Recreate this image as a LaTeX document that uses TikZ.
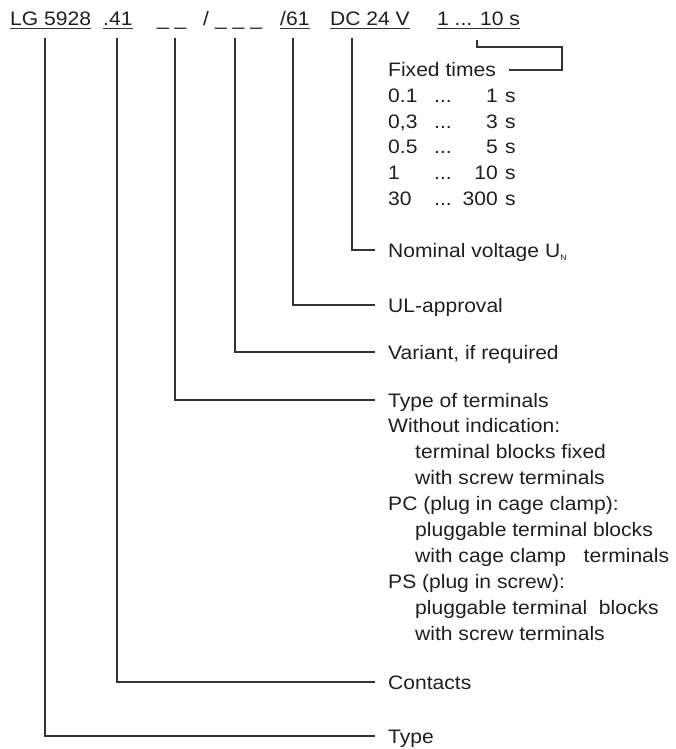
\documentclass[tikz,border=0pt]{standalone}
\usepackage{fontspec}
\setmainfont{Liberation Sans}[FakeStretch=1.08]
\begin{document}
\begin{tikzpicture}[x=1pt,y=-1pt,
  lbl/.style={anchor=base west, inner sep=0pt, font=\fontsize{19.5}{24}\selectfont, text=black!88},
  rlbl/.style={lbl, anchor=base east},
  conn/.style={line width=1.1pt, draw=black!80},
  uline/.style={line width=1pt, draw=black!80}]
\useasboundingbox (0,0) rectangle (675,749);
% header code
\node[lbl] (h1) at (10,26) {LG 5928};
\node[lbl] (h2) at (103,26) {.41};
\node[lbl] (h3) at (157,26) {\_ \_};
\node[lbl] (h4) at (203,26) {/};
\node[lbl] (h5) at (215,26) {\_ \_ \_};
\node[lbl] (h6) at (280,26) {/61};
\node[lbl] (h7) at (330,26) {DC 24 V};
\node[lbl] (h8) at (437,26) {1 ... 10 s};
\foreach \n in {h1,h2,h6,h7,h8}
  \draw[uline] ([yshift=-2.5pt]\n.base west) -- ([yshift=-2.5pt]\n.base east);
% drop points
\coordinate (d1) at (45,38);
\coordinate (d2) at (117,38);
\coordinate (d3) at (175,38);
\coordinate (d4) at (235,38);
\coordinate (d5) at (293,38);
\coordinate (d6) at (352,38);
\coordinate (d7) at (477,40);
\coordinate (fc) at (562,47);
% fixed times
\node[lbl] (fixed) at (388,77) {Fixed times};
\node[lbl] (r1a) at (388,102.6) {0.1};
\node[lbl] (r1b) at (434,102.6) {...};
\node[rlbl] (r1c) at (498,102.6) {1};
\node[lbl] (r1d) at (505,102.6) {s};
\node[lbl] (r2a) at (388,128.2) {0,3};
\node[lbl] (r2b) at (434,128.2) {...};
\node[rlbl] (r2c) at (498,128.2) {3};
\node[lbl] (r2d) at (505,128.2) {s};
\node[lbl] (r3a) at (388,153.8) {0.5};
\node[lbl] (r3b) at (434,153.8) {...};
\node[rlbl] (r3c) at (498,153.8) {5};
\node[lbl] (r3d) at (505,153.8) {s};
\node[lbl] (r4a) at (388,179.4) {1};
\node[lbl] (r4b) at (434,179.4) {...};
\node[rlbl] (r4c) at (498,179.4) {10};
\node[lbl] (r4d) at (505,179.4) {s};
\node[lbl] (r5a) at (388,205) {30};
\node[lbl] (r5b) at (434,205) {...};
\node[rlbl] (r5c) at (498,205) {300};
\node[lbl] (r5d) at (505,205) {s};
% labels
\node[lbl] (nom) at (388,257) {Nominal voltage U\raisebox{-3pt}{\fontsize{8}{8}\selectfont N}};
\node[lbl] (ul) at (388,312) {UL-approval};
\node[lbl] (var) at (388,359) {Variant, if required};
\node[lbl] (tot) at (388,407) {Type of terminals};
\node[lbl] (t1) at (388,432.9) {Without indication:};
\node[lbl] (t2) at (415,458.8) {terminal blocks fixed};
\node[lbl] (t3) at (415,484.7) {with screw terminals};
\node[lbl] (t4) at (388,510.6) {PC (plug in cage clamp):};
\node[lbl] (t5) at (415,536.5) {pluggable terminal blocks};
\node[lbl] (t6) at (415,562.4) {with cage clamp \ \ terminals};
\node[lbl] (t7) at (388,588.3) {PS (plug in screw):};
\node[lbl] (t8) at (415,614.2) {pluggable terminal \ blocks};
\node[lbl] (t9) at (415,640.1) {with screw terminals};
\node[lbl] (cont) at (388,689) {Contacts};
\node[lbl] (type) at (388,743) {Type};
% connectors
\draw[conn] (d7) |- (fc) |- ([xshift=13pt,yshift=7pt]fixed.base east);
\draw[conn] (d6) |- ([xshift=-13pt,yshift=7pt]nom.base west);
\draw[conn] (d5) |- ([xshift=-13pt,yshift=7pt]ul.base west);
\draw[conn] (d4) |- ([xshift=-13pt,yshift=7pt]var.base west);
\draw[conn] (d3) |- ([xshift=-13pt,yshift=7pt]tot.base west);
\draw[conn] (d2) |- ([xshift=-13pt,yshift=7pt]cont.base west);
\draw[conn] (d1) |- ([xshift=-13pt,yshift=7pt]type.base west);
\end{tikzpicture}
\end{document}
